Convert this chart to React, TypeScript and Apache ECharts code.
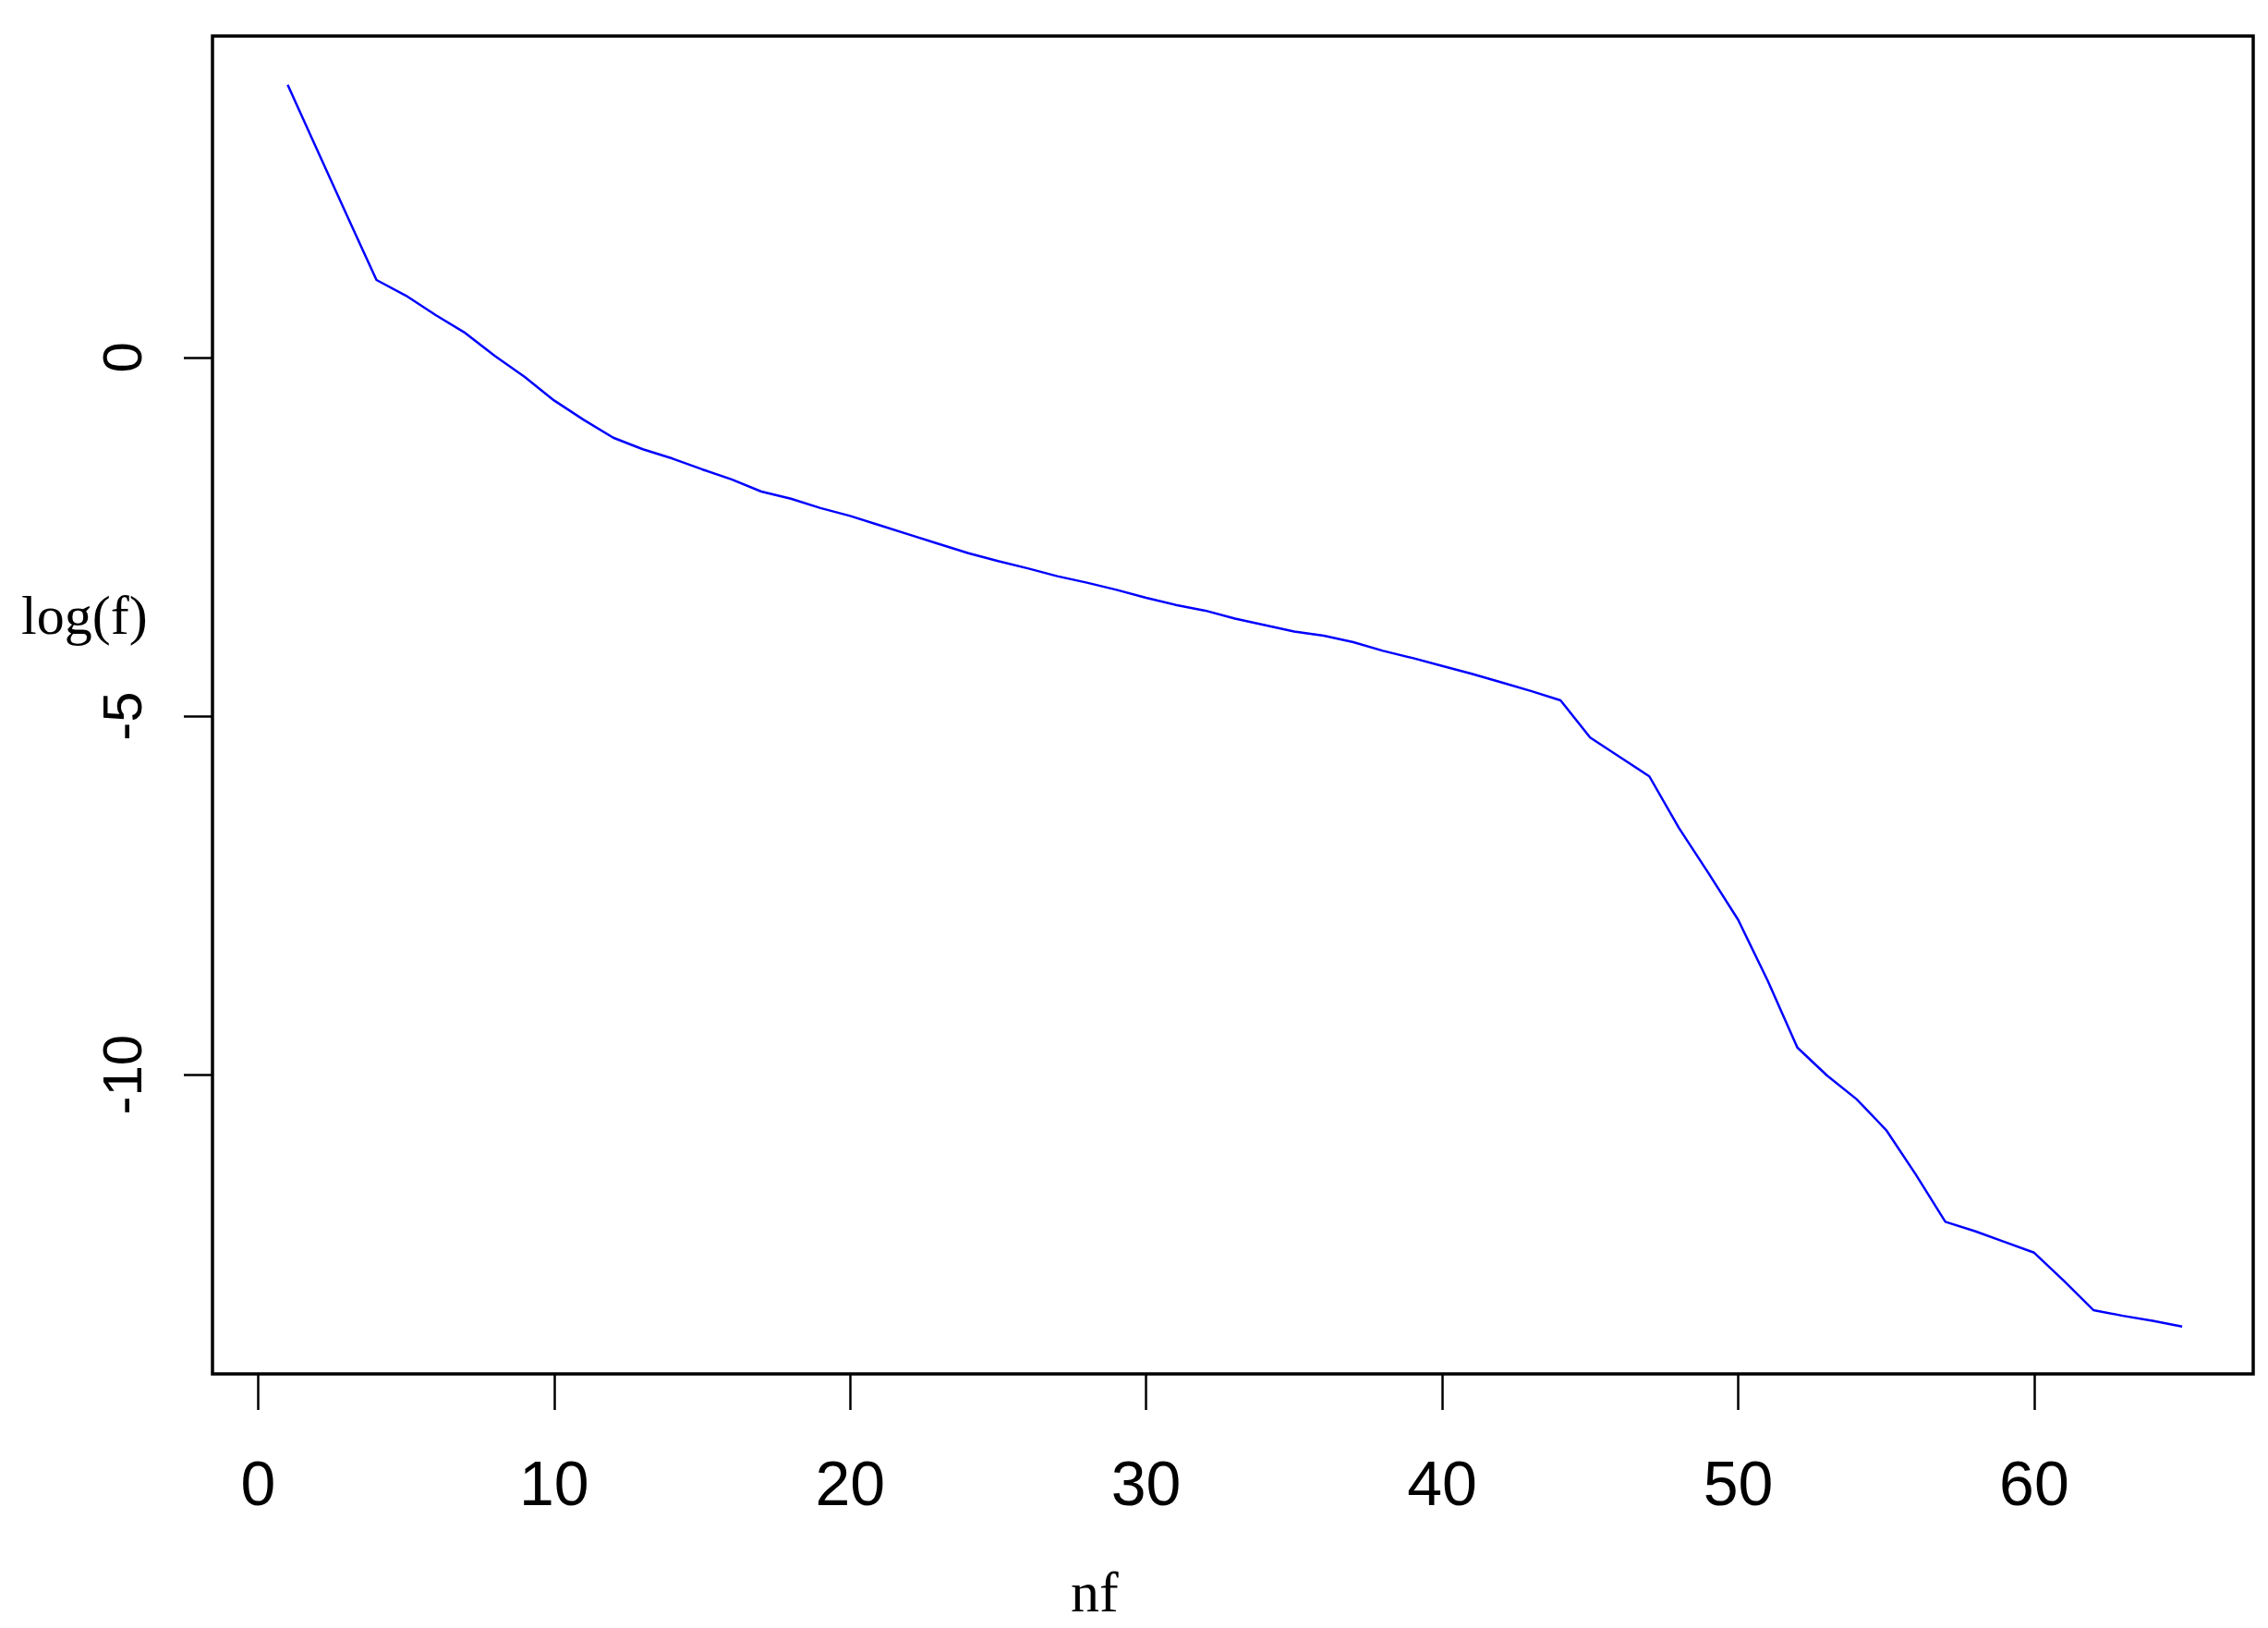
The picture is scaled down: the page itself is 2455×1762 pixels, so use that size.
import React, { useEffect, useRef } from "react";
import * as echarts from "echarts";

const nf = [
  1, 2, 3, 4, 5, 6, 7, 8, 9, 10, 11, 12, 13, 14, 15, 16, 17, 18, 19, 20, 21, 22,
  23, 24, 25, 26, 27, 28, 29, 30, 31, 32, 33, 34, 35, 36, 37, 38, 39, 40, 41, 42,
  43, 44, 45, 46, 47, 48, 49, 50, 51, 52, 53, 54, 55, 56, 57, 58, 59, 60, 61, 62,
  63, 64, 65,
];
const logf = [
  3.8, 2.89, 1.98, 1.08, 0.86, 0.59, 0.34, 0.02, -0.27, -0.6, -0.87, -1.12,
  -1.28, -1.41, -1.56, -1.7, -1.87, -1.97, -2.1, -2.21, -2.34, -2.47, -2.6,
  -2.73, -2.84, -2.94, -3.05, -3.14, -3.24, -3.35, -3.45, -3.53, -3.64, -3.73,
  -3.82, -3.88, -3.97, -4.09, -4.19, -4.3, -4.41, -4.53, -4.65, -4.78, -5.3,
  -5.57, -5.84, -6.56, -7.19, -7.84, -8.69, -9.62, -10.01, -10.34, -10.77,
  -11.39, -12.05, -12.18, -12.33, -12.48, -12.87, -13.28, -13.36, -13.43,
  -13.51,
];
const xTicks = [0, 10, 20, 30, 40, 50, 60];
const yTicks = [0, -5, -10];
const xTitle = "nf";
const yTitle = "log(f)";

export default function App() {
  const ref = useRef<HTMLDivElement>(null);
  useEffect(() => {
    if (!ref.current) return;
    const chart = echarts.init(ref.current, null, { renderer: "svg" });
    chart.setOption({
      animation: false,
      backgroundColor: "#ffffff",
      grid: {
        left: 230,
        top: 39,
        right: 16,
        bottom: 275,
        show: true,
        borderColor: "#000000",
        borderWidth: 3.5,
        containLabel: false,
      },
      xAxis: {
        type: "value",
        min: -1.54,
        max: 67.4,
        axisLine: { show: false, onZero: false },
        splitLine: { show: false },
        axisTick: {
          show: true,
          inside: false,
          length: 39,
          lineStyle: { color: "#000", width: 2.5 },
          customValues: xTicks,
        },
        axisLabel: {
          customValues: xTicks,
          margin: 84,
          fontSize: 68,
          fontFamily: "'Liberation Sans Narrow', 'Arial Narrow', 'Liberation Sans', Arial, sans-serif",
          color: "#000",
        },
      },
      yAxis: {
        type: "value",
        min: -14.17,
        max: 4.48,
        axisLine: { show: false, onZero: false },
        splitLine: { show: false },
        axisTick: {
          show: true,
          inside: false,
          length: 31,
          lineStyle: { color: "#000", width: 2.5 },
          customValues: yTicks,
        },
        axisLabel: {
          customValues: yTicks,
          rotate: 90,
          margin: 68,
          fontSize: 60,
          fontFamily: "'Liberation Sans', Arial, sans-serif",
          color: "#000",
        },
      },
      graphic: [
        {
          type: "text",
          left: 23,
          top: 636,
          style: {
            text: yTitle,
            fontSize: 60,
            fontFamily: "'Liberation Serif', 'Times New Roman', serif",
            fill: "#000",
          },
        },
        {
          type: "text",
          left: 1159,
          top: 1692,
          style: {
            text: xTitle,
            fontSize: 62,
            fontFamily: "'Liberation Serif', 'Times New Roman', serif",
            fill: "#000",
          },
        },
      ],
      series: [
        {
          type: "line",
          data: nf.map((x, i) => [x, logf[i]]),
          showSymbol: false,
          symbol: "none",
          lineStyle: { color: "#0000ff", width: 2.5 },
        },
      ],
    });
    return () => chart.dispose();
  }, []);
  return (
    <div
      ref={ref}
      style={{ position: "fixed", left: 0, top: 0, width: 2455, height: 1762, background: "#fff" }}
    />
  );
}
